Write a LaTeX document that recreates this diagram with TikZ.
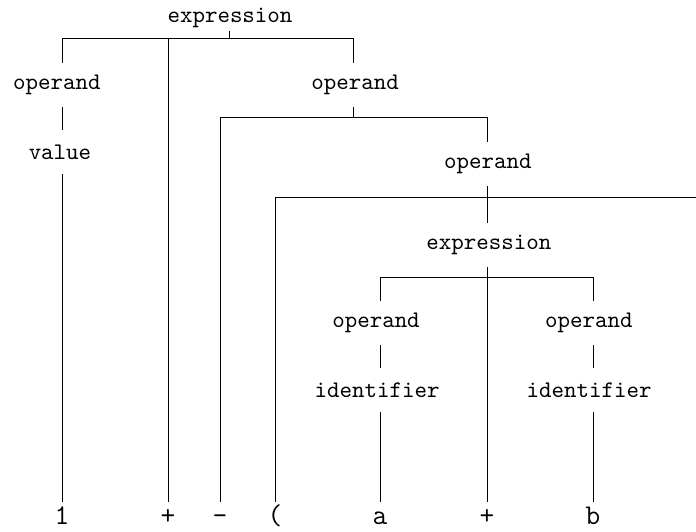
\documentclass[tikz,border=0pt]{standalone}
\begin{document}
\begin{tikzpicture}[x=0.42pt,y=-0.42pt,
  lbl/.style={inner sep=0pt,minimum height=44*0.42pt,font=\ttfamily\fontsize{10}{12}\selectfont},
  toplbl/.style={lbl,minimum height=26*0.42pt},
  leaf/.style={inner sep=0pt,anchor=base,text height=22*0.42pt,font=\ttfamily\fontsize{12}{14}\selectfont},
  edge/.style={line width=0.4pt}]
\useasboundingbox (0,0) rectangle (696,531);
% nodes
\node[toplbl] (e1) at (230,18) {expression};
\node[lbl] (o1) at (57,85) {operand};
\node[lbl] (v1) at (60,152) {value};
\node[lbl] (o2) at (355,85) {operand};
\node[lbl] (o3) at (488,164) {operand};
\node[lbl] (e2) at (489,245) {expression};
\node[lbl] (o4) at (376,323) {operand};
\node[lbl] (o5) at (589,323) {operand};
\node[lbl] (i4) at (377,390) {identifier};
\node[lbl] (i5) at (589,390) {identifier};
\node[leaf] (t1) at (62,524) {1};
\node[leaf] (t2) at (168,524) {+};
\node[leaf] (t3) at (220,524) {-};
\node[leaf] (t4) at (275,524) {(};
\node[leaf] (t5) at (380,524) {a};
\node[leaf] (t6) at (487,524) {+};
\node[leaf] (t7) at (593,524) {b};
% junctions
\coordinate (b1) at (229,38);
\coordinate (b1l) at (62,38);
\coordinate (b1m) at (168,38);
\coordinate (b1r) at (353,38);
\coordinate (b2) at (353,117);
\coordinate (b2l) at (220,117);
\coordinate (b2r) at (487,117);
\coordinate (b3) at (487,197);
\coordinate (b3l) at (275,197);
\coordinate (b3r) at (696,197);
\coordinate (b4) at (487,277);
\coordinate (b4l) at (380,277);
\coordinate (b4r) at (593,277);
% connectors
\draw[edge] (e1.south -| b1) -- (b1);
\draw[edge] (o1.north -| b1l) -- (b1l) -- (b1r) -- (o2.north -| b1r);
\draw[edge] (b1m) -- (t2.north);
\draw[edge] (o1.south -| b1l) -- (v1.north -| b1l);
\draw[edge] (v1.south -| b1l) -- (t1.north);
\draw[edge] (o2.south -| b2) -- (b2);
\draw[edge] (t3.north) -- (b2l) -- (b2r) -- (o3.north -| b2r);
\draw[edge] (o3.south -| b3) -- (e2.north -| b3);
\draw[edge] (t4.north) -- (b3l) -- (b3r);
\draw[edge] (e2.south -| b4) -- (t6.north);
\draw[edge] (o4.north -| b4l) -- (b4l) -- (b4r) -- (o5.north -| b4r);
\draw[edge] (o4.south -| b4l) -- (i4.north -| b4l);
\draw[edge] (o5.south -| b4r) -- (i5.north -| b4r);
\draw[edge] (i4.south -| b4l) -- (t5.north);
\draw[edge] (i5.south -| b4r) -- (t7.north);
\end{tikzpicture}
\end{document}
